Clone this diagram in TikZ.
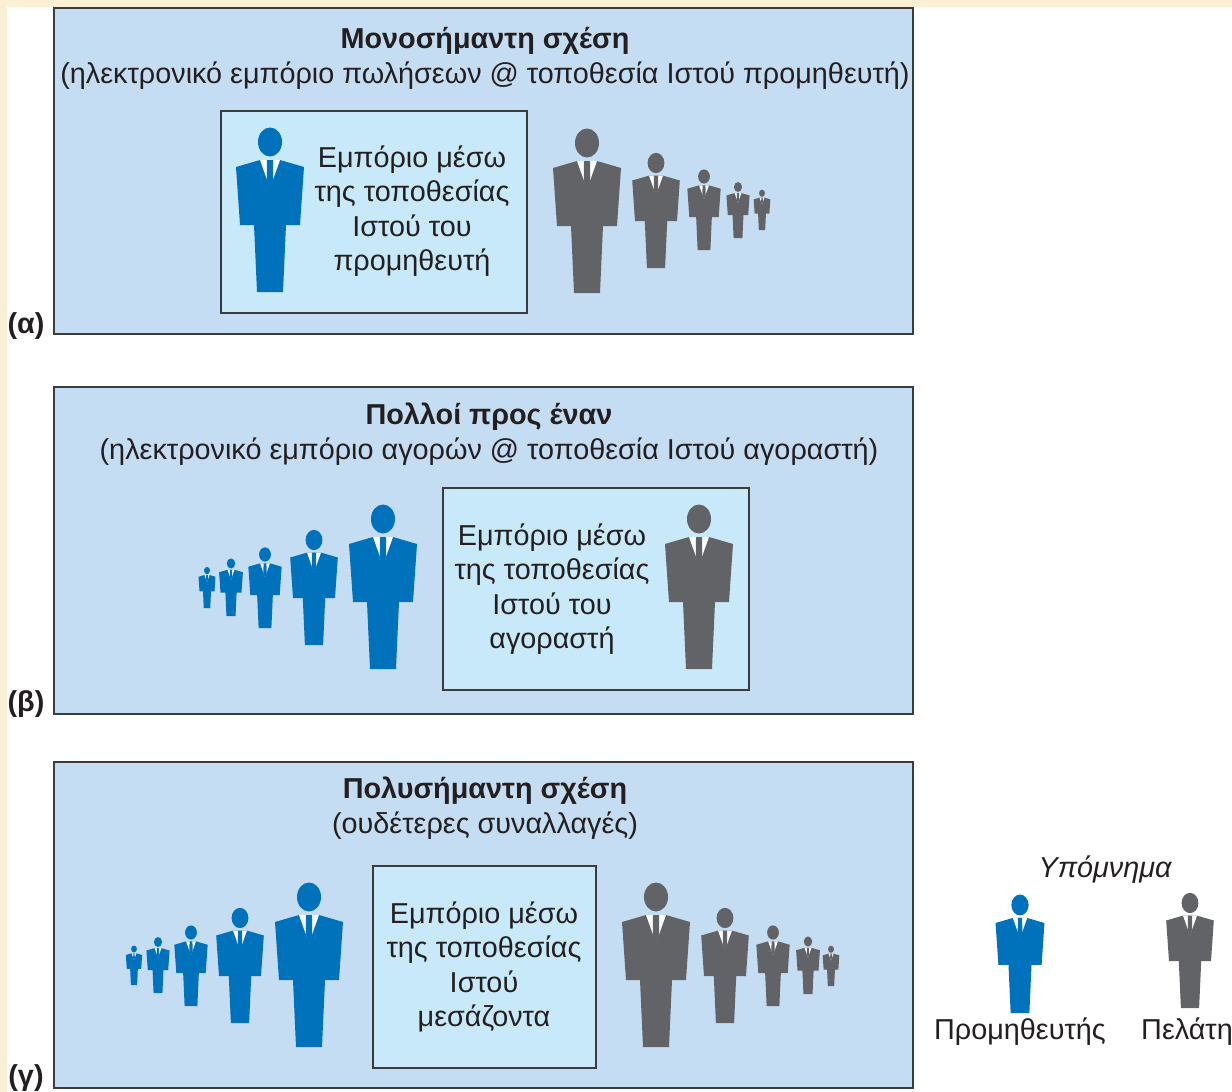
\documentclass[tikz,border=0pt]{standalone}
\usepackage{fontspec}
\setmainfont{Liberation Sans}
\definecolor{cream}{HTML}{FBF0D3}
\definecolor{panel}{HTML}{C5DDF3}
\definecolor{inbox}{HTML}{C8E9F9}
\definecolor{pblue}{HTML}{0071BB}
\definecolor{pgrey}{HTML}{626366}
\definecolor{frame}{HTML}{3C3C3C}
\definecolor{txt}{HTML}{231F20}
\tikzset{
  pics/person/.style={code={
    \fill[#1] (-13,0) -- (-16,-67) -- (-30,-67) -- (-34,-125) -- (-10,-132) -- (10,-132) -- (34,-125) -- (30,-67) -- (16,-67) -- (13,0) -- cycle;
    \fill[white] (-10,-132) -- (10,-132) -- (0,-104) -- cycle;
    \fill[#1] (-3,-132) -- (3,-132) -- (3.2,-112) -- (0,-102) -- (-3.2,-112) -- cycle;
    \fill[#1] (0,-150) ellipse [x radius=12, y radius=14.5];
  }},
  panelbox/.style={draw=frame, fill=panel, line width=1.5pt, minimum width=859pt, minimum height=326pt, inner sep=0pt},
  innerbox/.style={draw=frame, fill=inbox, line width=1.5pt, minimum height=202pt, inner sep=0pt},
  boxtext/.style={align=center, text=txt, font=\fontsize{28.8}{34.5}\selectfont, inner sep=0pt},
  titletext/.style={text=txt, font=\bfseries\fontsize{28.8}{32}\selectfont, inner sep=0pt},
  subtext/.style={text=txt, font=\fontsize{28.8}{32}\selectfont, inner sep=0pt},
  tagtext/.style={text=txt, font=\bfseries\fontsize{28.8}{32}\selectfont, inner sep=0pt},
}
\begin{document}
\begin{tikzpicture}[x=1pt,y=-1pt]
\useasboundingbox (0,0) rectangle (1232,1092);
\fill[white] (0,0) rectangle (1232,1092);
\fill[cream] (0,0) rectangle (1232,7);
\fill[cream] (0,0) rectangle (7,1092);

% panel alpha
\node[panelbox] (pa) at (483.5,171) {};
\node[titletext] (ta) at (485,41) {Μονοσήμαντη σχέση};
\node[subtext] (sa) at (485,76) {(ηλεκτρονικό εμπόριο πωλήσεων @ τοποθεσία Ιστού προμηθευτή)};
\node[innerbox, minimum width=306pt] (ia) at (374,212) {};
\node[boxtext] (xa) at (412,211) {Εμπόριο μέσω\\της τοποθεσίας\\Ιστού του\\προμηθευτή};
\pic at (270,292) {person=pblue};
\pic at (587,293) {person=pgrey};
\pic[scale=0.70] at (656,268) {person=pgrey};
\pic[scale=0.49] at (704,250) {person=pgrey};
\pic[scale=0.34] at (738,238) {person=pgrey};
\pic[scale=0.245] at (762,230) {person=pgrey};
\node[tagtext] (la) at (26,326) {(α)};

% panel beta
\node[panelbox, minimum height=327pt] (pb) at (483.5,550.5) {};
\node[titletext] (tb) at (489,417) {Πολλοί προς έναν};
\node[subtext] (sb) at (489,452) {(ηλεκτρονικό εμπόριο αγορών @ τοποθεσία Ιστού αγοραστή)};
\node[innerbox, minimum width=306pt] (ib) at (596,589) {};
\node[boxtext] (xb) at (552,589) {Εμπόριο μέσω\\της τοποθεσίας\\Ιστού του\\αγοραστή};
\pic at (383,669) {person=pblue};
\pic[scale=0.70] at (314,645) {person=pblue};
\pic[scale=0.49] at (265,628) {person=pblue};
\pic[scale=0.35] at (231,616) {person=pblue};
\pic[scale=0.25] at (207,608) {person=pblue};
\pic at (699,669) {person=pgrey};
\node[tagtext] (lb) at (26,704) {(β)};

% panel gamma
\node[panelbox] (pc) at (483.5,925) {};
\node[titletext] (tc) at (485,791) {Πολυσήμαντη σχέση};
\node[subtext] (sc) at (485,826) {(ουδέτερες συναλλαγές)};
\node[innerbox, minimum width=223pt] (ic) at (484.5,967) {};
\node[boxtext] (xc) at (484,967) {Εμπόριο μέσω\\της τοποθεσίας\\Ιστού\\μεσάζοντα};
\pic at (309,1047) {person=pblue};
\pic[scale=0.70] at (240,1023) {person=pblue};
\pic[scale=0.49] at (191,1006) {person=pblue};
\pic[scale=0.34] at (158,993) {person=pblue};
\pic[scale=0.24] at (134,985) {person=pblue};
\pic at (656,1047) {person=pgrey};
\pic[scale=0.70] at (725,1023) {person=pgrey};
\pic[scale=0.49] at (773,1006) {person=pgrey};
\pic[scale=0.35] at (808,994) {person=pgrey};
\pic[scale=0.245] at (831,986) {person=pgrey};
\node[tagtext] (lc) at (26,1078) {(γ)};

% legend
\node[subtext, font=\itshape\fontsize{28.8}{32}\selectfont] (lg) at (1105,870) {Υπόμνημα};
\pic[scale=0.72] at (1020,1013) {person=pblue};
\pic[scale=0.70] at (1190,1008) {person=pgrey};
\node[subtext] (lp) at (1020,1032) {Προμηθευτής};
\node[subtext, anchor=west] (lk) at (1141,1032) {Πελάτη};
\end{tikzpicture}
\end{document}
